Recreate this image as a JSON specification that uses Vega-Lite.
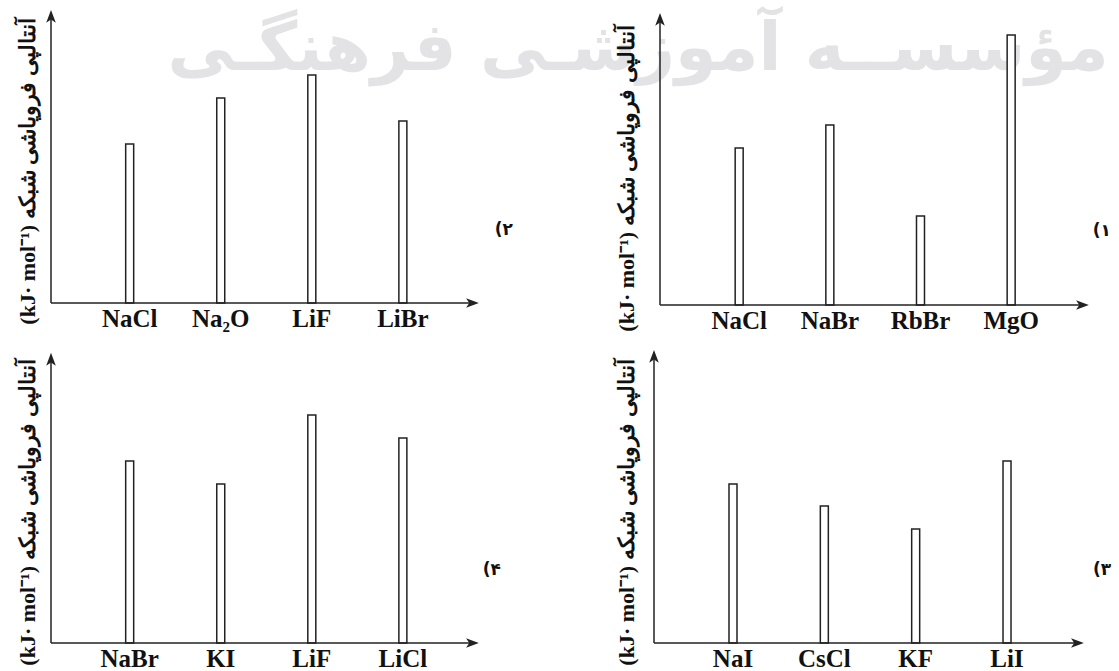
{
  "$schema": "https://vega.github.io/schema/vega-lite/v6.json",
  "padding": {"left": 16, "top": 9, "right": 0, "bottom": 0},
  "background": "white",
  "config": {
    "view": {"stroke": null},
    "axis": {"grid": false}
  },
  "bounds": "flush",
  "columns": 2,
  "spacing": {"row": 45, "column": 181},
  "concat": [
    {
      "width": 428,
      "height": 293,
      "layer": [
        {
          "data": {"values": [{}]},
          "mark": {"type": "text", "text": "مؤسســه آموزشـی فرهنگـی", "font": "DejaVu Sans", "fontSize": 67, "fontWeight": "bold", "color": "#e3e3e5", "align": "center", "baseline": "middle"},
          "encoding": {
            "x": {"datum": 1.372, "type": "quantitative", "scale": {"domain": [0, 1]}, "axis": null},
            "y": {"datum": 86.3, "type": "quantitative", "scale": {"domain": [0, 100]}}
          }
        },
        {
          "data": {"values": [
            {"c": "NaCl", "v": 54.3},
            {"c": "Na₂O", "v": 70.0},
            {"c": "LiF", "v": 77.8},
            {"c": "LiBr", "v": 62.1}
          ]},
          "mark": {"type": "bar", "width": 8, "fill": "white", "stroke": "#222", "strokeWidth": 1.5},
          "encoding": {
            "x": {"field": "c", "type": "nominal", "sort": null, "scale": {"type": "band", "paddingInner": 0, "paddingOuter": 0.35, "align": 0.52},
              "axis": {"orient": "bottom", "title": null, "domain": false, "ticks": false, "labelAngle": 0, "labelFont": "Liberation Serif", "labelFontSize": 25, "labelFontWeight": "bold", "labelColor": "#111", "labelPadding": 3}},
            "y": {"field": "v", "type": "quantitative", "scale": {"domain": [0, 100]},
              "axis": {"title": "(kJ· mol⁻¹) آنتالپی فروپاشی شبکه", "titleFont": "Liberation Serif", "titleFontSize": 22, "titleFontWeight": "bold", "titleColor": "#111", "titleAngle": -90, "titleAlign": "center", "titleBaseline": "middle", "titleX": -24, "titleY": 161, "labels": false, "ticks": false, "domain": false, "grid": false}}
          }
        },
        {
          "data": {"values": [{}]},
          "mark": {"type": "rule", "color": "#222", "strokeWidth": 1.5},
          "encoding": {
            "x": {"datum": 0, "type": "quantitative", "scale": {"domain": [0, 1]}, "axis": null},
            "x2": {"datum": 0.981},
            "y": {"datum": 0, "type": "quantitative", "scale": {"domain": [0, 100]}}
          }
        },
        {
          "data": {"values": [{}]},
          "mark": {"type": "rule", "color": "#222", "strokeWidth": 1.5},
          "encoding": {
            "x": {"datum": 0, "type": "quantitative", "scale": {"domain": [0, 1]}, "axis": null},
            "y": {"datum": 0, "type": "quantitative", "scale": {"domain": [0, 100]}},
            "y2": {"datum": 97.3}
          }
        },
        {
          "data": {"values": [{}]},
          "mark": {"type": "point", "shape": "M0,-1L0.6,0.6L0,0.2L-0.6,0.6Z", "size": 256, "filled": true, "color": "#222", "opacity": 1},
          "encoding": {
            "x": {"datum": 0, "type": "quantitative", "scale": {"domain": [0, 1]}, "axis": null},
            "y": {"datum": 97.3, "type": "quantitative", "scale": {"domain": [0, 100]}}
          }
        },
        {
          "data": {"values": [{}]},
          "mark": {"type": "point", "shape": "M1,0L-0.6,0.6L-0.2,0L-0.6,-0.6Z", "size": 256, "filled": true, "color": "#222", "opacity": 1},
          "encoding": {
            "x": {"datum": 0.981, "type": "quantitative", "scale": {"domain": [0, 1]}, "axis": null},
            "y": {"datum": 0, "type": "quantitative", "scale": {"domain": [0, 100]}}
          }
        },
        {
          "data": {"values": [{}]},
          "mark": {"type": "text", "text": "(۲", "font": "DejaVu Sans", "fontSize": 17, "fontWeight": "bold", "color": "#111", "align": "center", "baseline": "middle"},
          "encoding": {
            "x": {"datum": 1.058, "type": "quantitative", "scale": {"domain": [0, 1]}, "axis": null},
            "y": {"datum": 24.9, "type": "quantitative", "scale": {"domain": [0, 100]}}
          }
        }
      ],
      "resolve": {"scale": {"x": "independent"}}
    },
    {
      "width": 429,
      "height": 295,
      "layer": [
        {
          "data": {"values": [
            {"c": "NaCl", "v": 53.2},
            {"c": "NaBr", "v": 61.0},
            {"c": "RbBr", "v": 30.2},
            {"c": "MgO", "v": 91.5}
          ]},
          "mark": {"type": "bar", "width": 8, "fill": "white", "stroke": "#222", "strokeWidth": 1.5},
          "encoding": {
            "x": {"field": "c", "type": "nominal", "sort": null, "scale": {"type": "band", "paddingInner": 0, "paddingOuter": 0.366, "align": 0.51},
              "axis": {"orient": "bottom", "title": null, "domain": false, "ticks": false, "labelAngle": 0, "labelFont": "Liberation Serif", "labelFontSize": 25, "labelFontWeight": "bold", "labelColor": "#111", "labelPadding": 3}},
            "y": {"field": "v", "type": "quantitative", "scale": {"domain": [0, 100]},
              "axis": {"title": "(kJ· mol⁻¹) آنتالپی فروپاشی شبکه", "titleFont": "Liberation Serif", "titleFontSize": 22, "titleFontWeight": "bold", "titleColor": "#111", "titleAngle": -90, "titleAlign": "center", "titleBaseline": "middle", "titleX": -34, "titleY": 168, "labels": false, "ticks": false, "domain": false, "grid": false}}
          }
        },
        {
          "data": {"values": [{}]},
          "mark": {"type": "rule", "color": "#222", "strokeWidth": 1.5},
          "encoding": {
            "x": {"datum": 0, "type": "quantitative", "scale": {"domain": [0, 1]}, "axis": null},
            "x2": {"datum": 0.981},
            "y": {"datum": 0, "type": "quantitative", "scale": {"domain": [0, 100]}}
          }
        },
        {
          "data": {"values": [{}]},
          "mark": {"type": "rule", "color": "#222", "strokeWidth": 1.5},
          "encoding": {
            "x": {"datum": 0, "type": "quantitative", "scale": {"domain": [0, 1]}, "axis": null},
            "y": {"datum": 0, "type": "quantitative", "scale": {"domain": [0, 100]}},
            "y2": {"datum": 96.3}
          }
        },
        {
          "data": {"values": [{}]},
          "mark": {"type": "point", "shape": "M0,-1L0.6,0.6L0,0.2L-0.6,0.6Z", "size": 256, "filled": true, "color": "#222", "opacity": 1},
          "encoding": {
            "x": {"datum": 0, "type": "quantitative", "scale": {"domain": [0, 1]}, "axis": null},
            "y": {"datum": 96.3, "type": "quantitative", "scale": {"domain": [0, 100]}}
          }
        },
        {
          "data": {"values": [{}]},
          "mark": {"type": "point", "shape": "M1,0L-0.6,0.6L-0.2,0L-0.6,-0.6Z", "size": 256, "filled": true, "color": "#222", "opacity": 1},
          "encoding": {
            "x": {"datum": 0.981, "type": "quantitative", "scale": {"domain": [0, 1]}, "axis": null},
            "y": {"datum": 0, "type": "quantitative", "scale": {"domain": [0, 100]}}
          }
        },
        {
          "data": {"values": [{}]},
          "mark": {"type": "text", "text": "(۱", "font": "DejaVu Sans", "fontSize": 17, "fontWeight": "bold", "color": "#111", "align": "center", "baseline": "middle"},
          "encoding": {
            "x": {"datum": 1.03, "type": "quantitative", "scale": {"domain": [0, 1]}, "axis": null},
            "y": {"datum": 25.1, "type": "quantitative", "scale": {"domain": [0, 100]}}
          }
        }
      ],
      "resolve": {"scale": {"x": "independent"}}
    },
    {
      "width": 428,
      "height": 293,
      "layer": [
        {
          "data": {"values": [
            {"c": "NaBr", "v": 62.1},
            {"c": "KI", "v": 54.3},
            {"c": "LiF", "v": 77.8},
            {"c": "LiCl", "v": 70.0}
          ]},
          "mark": {"type": "bar", "width": 8, "fill": "white", "stroke": "#222", "strokeWidth": 1.5},
          "encoding": {
            "x": {"field": "c", "type": "nominal", "sort": null, "scale": {"type": "band", "paddingInner": 0, "paddingOuter": 0.35, "align": 0.52},
              "axis": {"orient": "bottom", "title": null, "domain": false, "ticks": false, "labelAngle": 0, "labelFont": "Liberation Serif", "labelFontSize": 25, "labelFontWeight": "bold", "labelColor": "#111", "labelPadding": 3}},
            "y": {"field": "v", "type": "quantitative", "scale": {"domain": [0, 100]},
              "axis": {"title": "(kJ· mol⁻¹) آنتالپی فروپاشی شبکه", "titleFont": "Liberation Serif", "titleFontSize": 22, "titleFontWeight": "bold", "titleColor": "#111", "titleAngle": -90, "titleAlign": "center", "titleBaseline": "middle", "titleX": -24, "titleY": 162, "labels": false, "ticks": false, "domain": false, "grid": false}}
          }
        },
        {
          "data": {"values": [{}]},
          "mark": {"type": "rule", "color": "#222", "strokeWidth": 1.5},
          "encoding": {
            "x": {"datum": 0, "type": "quantitative", "scale": {"domain": [0, 1]}, "axis": null},
            "x2": {"datum": 0.981},
            "y": {"datum": 0, "type": "quantitative", "scale": {"domain": [0, 100]}}
          }
        },
        {
          "data": {"values": [{}]},
          "mark": {"type": "rule", "color": "#222", "strokeWidth": 1.5},
          "encoding": {
            "x": {"datum": 0, "type": "quantitative", "scale": {"domain": [0, 1]}, "axis": null},
            "y": {"datum": 0, "type": "quantitative", "scale": {"domain": [0, 100]}},
            "y2": {"datum": 96.3}
          }
        },
        {
          "data": {"values": [{}]},
          "mark": {"type": "point", "shape": "M0,-1L0.6,0.6L0,0.2L-0.6,0.6Z", "size": 256, "filled": true, "color": "#222", "opacity": 1},
          "encoding": {
            "x": {"datum": 0, "type": "quantitative", "scale": {"domain": [0, 1]}, "axis": null},
            "y": {"datum": 96.3, "type": "quantitative", "scale": {"domain": [0, 100]}}
          }
        },
        {
          "data": {"values": [{}]},
          "mark": {"type": "point", "shape": "M1,0L-0.6,0.6L-0.2,0L-0.6,-0.6Z", "size": 256, "filled": true, "color": "#222", "opacity": 1},
          "encoding": {
            "x": {"datum": 0.981, "type": "quantitative", "scale": {"domain": [0, 1]}, "axis": null},
            "y": {"datum": 0, "type": "quantitative", "scale": {"domain": [0, 100]}}
          }
        },
        {
          "data": {"values": [{}]},
          "mark": {"type": "text", "text": "(۴", "font": "DejaVu Sans", "fontSize": 17, "fontWeight": "bold", "color": "#111", "align": "center", "baseline": "middle"},
          "encoding": {
            "x": {"datum": 1.03, "type": "quantitative", "scale": {"domain": [0, 1]}, "axis": null},
            "y": {"datum": 25.0, "type": "quantitative", "scale": {"domain": [0, 100]}}
          }
        }
      ],
      "resolve": {"scale": {"x": "independent"}}
    },
    {
      "width": 424,
      "height": 293,
      "layer": [
        {
          "data": {"values": [
            {"c": "NaI", "v": 54.3},
            {"c": "CsCl", "v": 46.8},
            {"c": "KF", "v": 38.9},
            {"c": "LiI", "v": 62.1}
          ]},
          "mark": {"type": "bar", "width": 8, "fill": "white", "stroke": "#222", "strokeWidth": 1.5},
          "encoding": {
            "x": {"field": "c", "type": "nominal", "sort": null, "scale": {"type": "band", "paddingInner": 0, "paddingOuter": 0.321, "align": 0.466},
              "axis": {"orient": "bottom", "title": null, "domain": false, "ticks": false, "labelAngle": 0, "labelFont": "Liberation Serif", "labelFontSize": 25, "labelFontWeight": "bold", "labelColor": "#111", "labelPadding": 3}},
            "y": {"field": "v", "type": "quantitative", "scale": {"domain": [0, 100]},
              "axis": {"title": "(kJ· mol⁻¹) آنتالپی فروپاشی شبکه", "titleFont": "Liberation Serif", "titleFontSize": 22, "titleFontWeight": "bold", "titleColor": "#111", "titleAngle": -90, "titleAlign": "center", "titleBaseline": "middle", "titleX": -34, "titleY": 162, "labels": false, "ticks": false, "domain": false, "grid": false}}
          }
        },
        {
          "data": {"values": [{}]},
          "mark": {"type": "rule", "color": "#222", "strokeWidth": 1.5},
          "encoding": {
            "x": {"datum": 0, "type": "quantitative", "scale": {"domain": [0.01395, 1]}, "axis": null},
            "x2": {"datum": 0.981},
            "y": {"datum": 0, "type": "quantitative", "scale": {"domain": [0, 100]}}
          }
        },
        {
          "data": {"values": [{}]},
          "mark": {"type": "rule", "color": "#222", "strokeWidth": 1.5},
          "encoding": {
            "x": {"datum": 0, "type": "quantitative", "scale": {"domain": [0.01395, 1]}, "axis": null},
            "y": {"datum": 0, "type": "quantitative", "scale": {"domain": [0, 100]}},
            "y2": {"datum": 97.3}
          }
        },
        {
          "data": {"values": [{}]},
          "mark": {"type": "point", "shape": "M0,-1L0.6,0.6L0,0.2L-0.6,0.6Z", "size": 256, "filled": true, "color": "#222", "opacity": 1},
          "encoding": {
            "x": {"datum": 0, "type": "quantitative", "scale": {"domain": [0.01395, 1]}, "axis": null},
            "y": {"datum": 97.3, "type": "quantitative", "scale": {"domain": [0, 100]}}
          }
        },
        {
          "data": {"values": [{}]},
          "mark": {"type": "point", "shape": "M1,0L-0.6,0.6L-0.2,0L-0.6,-0.6Z", "size": 256, "filled": true, "color": "#222", "opacity": 1},
          "encoding": {
            "x": {"datum": 0.981, "type": "quantitative", "scale": {"domain": [0.01395, 1]}, "axis": null},
            "y": {"datum": 0, "type": "quantitative", "scale": {"domain": [0, 100]}}
          }
        },
        {
          "data": {"values": [{}]},
          "mark": {"type": "text", "text": "(۳", "font": "DejaVu Sans", "fontSize": 17, "fontWeight": "bold", "color": "#111", "align": "center", "baseline": "middle"},
          "encoding": {
            "x": {"datum": 1.042, "type": "quantitative", "scale": {"domain": [0.01395, 1]}, "axis": null},
            "y": {"datum": 25.0, "type": "quantitative", "scale": {"domain": [0, 100]}}
          }
        }
      ],
      "resolve": {"scale": {"x": "independent"}}
    }
  ]
}
